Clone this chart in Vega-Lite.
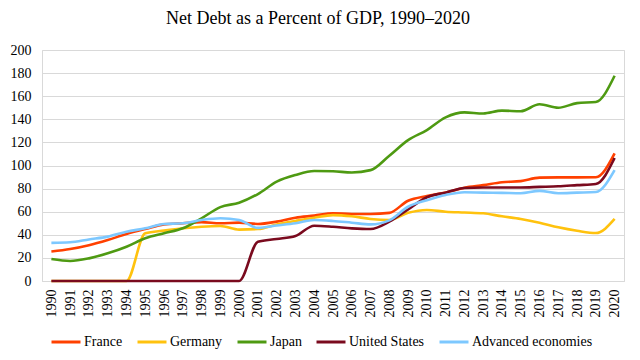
{
  "$schema": "https://vega.github.io/schema/vega-lite/v6.json",
  "autosize": "none",
  "width": 582,
  "height": 231,
  "padding": {"left": 42, "top": 50, "right": 16, "bottom": 79},
  "background": "white",
  "title": {
    "text": "Net Debt as a Percent of GDP, 1990–2020",
    "font": "Liberation Serif",
    "fontSize": 18,
    "fontWeight": "normal",
    "color": "#000000",
    "anchor": "middle",
    "baseline": "alphabetic",
    "offset": 24,
    "dx": -15,
    "dy": 23
  },
  "config": {
    "view": {"stroke": "#d9d9d9", "strokeWidth": 1},
    "font": "Liberation Serif",
    "axis": {"labelFont": "Liberation Serif"},
    "legend": {"labelFont": "Liberation Serif"}
  },
  "data": {
    "values": [
      {"year": "1990", "country": "France", "value": 25.5},
      {"year": "1991", "country": "France", "value": 27.7},
      {"year": "1992", "country": "France", "value": 31},
      {"year": "1993", "country": "France", "value": 35.5},
      {"year": "1994", "country": "France", "value": 40.7},
      {"year": "1995", "country": "France", "value": 45},
      {"year": "1996", "country": "France", "value": 49},
      {"year": "1997", "country": "France", "value": 50},
      {"year": "1998", "country": "France", "value": 51},
      {"year": "1999", "country": "France", "value": 50},
      {"year": "2000", "country": "France", "value": 50.5},
      {"year": "2001", "country": "France", "value": 49.4},
      {"year": "2002", "country": "France", "value": 51.4},
      {"year": "2003", "country": "France", "value": 54.8},
      {"year": "2004", "country": "France", "value": 56.6},
      {"year": "2005", "country": "France", "value": 58.6},
      {"year": "2006", "country": "France", "value": 58},
      {"year": "2007", "country": "France", "value": 58},
      {"year": "2008", "country": "France", "value": 59},
      {"year": "2009", "country": "France", "value": 69.5},
      {"year": "2010", "country": "France", "value": 73.6},
      {"year": "2011", "country": "France", "value": 76.5},
      {"year": "2012", "country": "France", "value": 80.8},
      {"year": "2013", "country": "France", "value": 83},
      {"year": "2014", "country": "France", "value": 85.5},
      {"year": "2015", "country": "France", "value": 86.5},
      {"year": "2016", "country": "France", "value": 89.5},
      {"year": "2017", "country": "France", "value": 89.7},
      {"year": "2018", "country": "France", "value": 89.7},
      {"year": "2019", "country": "France", "value": 89.8},
      {"year": "2020", "country": "France", "value": 110.5},
      {"year": "1990", "country": "Germany", "value": 0},
      {"year": "1991", "country": "Germany", "value": 0},
      {"year": "1992", "country": "Germany", "value": 0},
      {"year": "1993", "country": "Germany", "value": 0},
      {"year": "1994", "country": "Germany", "value": 0},
      {"year": "1995", "country": "Germany", "value": 41.3},
      {"year": "1996", "country": "Germany", "value": 43.6},
      {"year": "1997", "country": "Germany", "value": 45.6},
      {"year": "1998", "country": "Germany", "value": 47},
      {"year": "1999", "country": "Germany", "value": 47.6},
      {"year": "2000", "country": "Germany", "value": 44.5},
      {"year": "2001", "country": "Germany", "value": 45},
      {"year": "2002", "country": "Germany", "value": 49},
      {"year": "2003", "country": "Germany", "value": 52},
      {"year": "2004", "country": "Germany", "value": 54.8},
      {"year": "2005", "country": "Germany", "value": 57},
      {"year": "2006", "country": "Germany", "value": 56},
      {"year": "2007", "country": "Germany", "value": 53.7},
      {"year": "2008", "country": "Germany", "value": 52.8},
      {"year": "2009", "country": "Germany", "value": 59},
      {"year": "2010", "country": "Germany", "value": 61.5},
      {"year": "2011", "country": "Germany", "value": 60},
      {"year": "2012", "country": "Germany", "value": 59.3},
      {"year": "2013", "country": "Germany", "value": 58.6},
      {"year": "2014", "country": "Germany", "value": 56},
      {"year": "2015", "country": "Germany", "value": 53.7},
      {"year": "2016", "country": "Germany", "value": 50.5},
      {"year": "2017", "country": "Germany", "value": 46.5},
      {"year": "2018", "country": "Germany", "value": 43.5},
      {"year": "2019", "country": "Germany", "value": 41.5},
      {"year": "2020", "country": "Germany", "value": 53.7},
      {"year": "1990", "country": "Japan", "value": 19},
      {"year": "1991", "country": "Japan", "value": 17.3},
      {"year": "1992", "country": "Japan", "value": 19.6},
      {"year": "1993", "country": "Japan", "value": 24},
      {"year": "1994", "country": "Japan", "value": 29.7},
      {"year": "1995", "country": "Japan", "value": 37},
      {"year": "1996", "country": "Japan", "value": 41.3},
      {"year": "1997", "country": "Japan", "value": 45.6},
      {"year": "1998", "country": "Japan", "value": 54.3},
      {"year": "1999", "country": "Japan", "value": 64},
      {"year": "2000", "country": "Japan", "value": 67.8},
      {"year": "2001", "country": "Japan", "value": 75.3},
      {"year": "2002", "country": "Japan", "value": 86},
      {"year": "2003", "country": "Japan", "value": 91.8},
      {"year": "2004", "country": "Japan", "value": 95.2},
      {"year": "2005", "country": "Japan", "value": 95},
      {"year": "2006", "country": "Japan", "value": 94},
      {"year": "2007", "country": "Japan", "value": 96},
      {"year": "2008", "country": "Japan", "value": 108.5},
      {"year": "2009", "country": "Japan", "value": 122},
      {"year": "2010", "country": "Japan", "value": 130.7},
      {"year": "2011", "country": "Japan", "value": 141.7},
      {"year": "2012", "country": "Japan", "value": 146},
      {"year": "2013", "country": "Japan", "value": 145},
      {"year": "2014", "country": "Japan", "value": 147.5},
      {"year": "2015", "country": "Japan", "value": 147},
      {"year": "2016", "country": "Japan", "value": 153},
      {"year": "2017", "country": "Japan", "value": 150},
      {"year": "2018", "country": "Japan", "value": 154},
      {"year": "2019", "country": "Japan", "value": 155},
      {"year": "2020", "country": "Japan", "value": 177.7},
      {"year": "1990", "country": "United States", "value": 0},
      {"year": "1991", "country": "United States", "value": 0},
      {"year": "1992", "country": "United States", "value": 0},
      {"year": "1993", "country": "United States", "value": 0},
      {"year": "1994", "country": "United States", "value": 0},
      {"year": "1995", "country": "United States", "value": 0},
      {"year": "1996", "country": "United States", "value": 0},
      {"year": "1997", "country": "United States", "value": 0},
      {"year": "1998", "country": "United States", "value": 0},
      {"year": "1999", "country": "United States", "value": 0},
      {"year": "2000", "country": "United States", "value": 0},
      {"year": "2001", "country": "United States", "value": 34},
      {"year": "2002", "country": "United States", "value": 36.4},
      {"year": "2003", "country": "United States", "value": 39},
      {"year": "2004", "country": "United States", "value": 47.9},
      {"year": "2005", "country": "United States", "value": 47},
      {"year": "2006", "country": "United States", "value": 45.6},
      {"year": "2007", "country": "United States", "value": 45},
      {"year": "2008", "country": "United States", "value": 51.4},
      {"year": "2009", "country": "United States", "value": 62},
      {"year": "2010", "country": "United States", "value": 72.5},
      {"year": "2011", "country": "United States", "value": 76.5},
      {"year": "2012", "country": "United States", "value": 80.5},
      {"year": "2013", "country": "United States", "value": 81},
      {"year": "2014", "country": "United States", "value": 81},
      {"year": "2015", "country": "United States", "value": 81},
      {"year": "2016", "country": "United States", "value": 81.5},
      {"year": "2017", "country": "United States", "value": 82},
      {"year": "2018", "country": "United States", "value": 83},
      {"year": "2019", "country": "United States", "value": 84},
      {"year": "2020", "country": "United States", "value": 106.5},
      {"year": "1990", "country": "Advanced economies", "value": 33},
      {"year": "1991", "country": "Advanced economies", "value": 33.5},
      {"year": "1992", "country": "Advanced economies", "value": 36},
      {"year": "1993", "country": "Advanced economies", "value": 38.4},
      {"year": "1994", "country": "Advanced economies", "value": 42.7},
      {"year": "1995", "country": "Advanced economies", "value": 45.6},
      {"year": "1996", "country": "Advanced economies", "value": 49.4},
      {"year": "1997", "country": "Advanced economies", "value": 50},
      {"year": "1998", "country": "Advanced economies", "value": 52.8},
      {"year": "1999", "country": "Advanced economies", "value": 54.3},
      {"year": "2000", "country": "Advanced economies", "value": 52.8},
      {"year": "2001", "country": "Advanced economies", "value": 46},
      {"year": "2002", "country": "Advanced economies", "value": 48},
      {"year": "2003", "country": "Advanced economies", "value": 50},
      {"year": "2004", "country": "Advanced economies", "value": 52.8},
      {"year": "2005", "country": "Advanced economies", "value": 52},
      {"year": "2006", "country": "Advanced economies", "value": 50.5},
      {"year": "2007", "country": "Advanced economies", "value": 49},
      {"year": "2008", "country": "Advanced economies", "value": 52.5},
      {"year": "2009", "country": "Advanced economies", "value": 64.3},
      {"year": "2010", "country": "Advanced economies", "value": 70},
      {"year": "2011", "country": "Advanced economies", "value": 74.5},
      {"year": "2012", "country": "Advanced economies", "value": 76.8},
      {"year": "2013", "country": "Advanced economies", "value": 76.5},
      {"year": "2014", "country": "Advanced economies", "value": 76.3},
      {"year": "2015", "country": "Advanced economies", "value": 76},
      {"year": "2016", "country": "Advanced economies", "value": 78},
      {"year": "2017", "country": "Advanced economies", "value": 76},
      {"year": "2018", "country": "Advanced economies", "value": 76.5},
      {"year": "2019", "country": "Advanced economies", "value": 77},
      {"year": "2020", "country": "Advanced economies", "value": 96}
    ]
  },
  "mark": {"type": "line", "strokeWidth": 2.6, "interpolate": "monotone"},
  "encoding": {
    "x": {
      "field": "year",
      "type": "ordinal",
      "scale": {"type": "point", "padding": 0.5},
      "axis": {
        "title": null,
        "labelAngle": -90,
        "labelFont": "Liberation Serif",
        "labelFontSize": 14,
        "labelColor": "#000000",
        "labelPadding": 8,
        "ticks": false,
        "domain": true,
        "domainColor": "#d9d9d9",
        "grid": false
      }
    },
    "y": {
      "field": "value",
      "type": "quantitative",
      "scale": {"domain": [0, 200], "nice": false},
      "axis": {
        "title": null,
        "values": [0, 20, 40, 60, 80, 100, 120, 140, 160, 180, 200],
        "labelFont": "Liberation Serif",
        "labelFontSize": 14,
        "labelColor": "#000000",
        "labelPadding": 11,
        "ticks": false,
        "domain": false,
        "grid": true,
        "gridColor": "#d9d9d9",
        "gridWidth": 1
      }
    },
    "color": {
      "field": "country",
      "type": "nominal",
      "scale": {
        "domain": ["France", "Germany", "Japan", "United States", "Advanced economies"],
        "range": ["#FF4000", "#FFC20E", "#4E9A12", "#7A0A1E", "#7DC8FF"]
      },
      "legend": {
        "title": null,
        "orient": "none",
        "direction": "horizontal",
        "legendX": 8,
        "legendY": 276,
        "symbolType": "stroke",
        "symbolSize": 841,
        "symbolStrokeWidth": 3,
        "labelFont": "Liberation Serif",
        "labelFontSize": 14,
        "labelColor": "#000000",
        "labelOffset": 2,
        "columnPadding": 8,
        "padding": 0
      }
    }
  }
}
